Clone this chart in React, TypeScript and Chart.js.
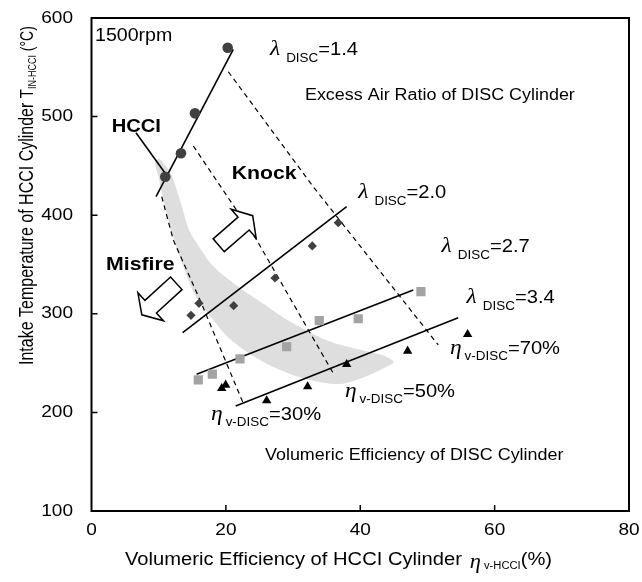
import React, { useEffect, useRef } from "react";
import { Chart, registerables } from "chart.js";

Chart.register(...registerables);

// ---------------- data ----------------
const xTickValues = [0, 20, 40, 60, 80];
const yTickValues = [100, 200, 300, 400, 500, 600];

// measured points (x: volumetric efficiency of HCCI cyl. %, y: intake temperature °C)
const lambda14X = [10.98, 13.32, 15.4, 20.27];
const lambda14Y = [439.0, 462.8, 503.3, 569.9];
const lambda20X = [14.81, 16.0, 21.16, 27.31, 32.86, 36.73];
const lambda20Y = [298.5, 310.6, 308.2, 336.3, 368.8, 392.4];
const lambda27X = [15.89, 17.98, 22.1, 29.05, 33.9, 39.7, 49.03];
const lambda27Y = [232.9, 238.9, 254.2, 266.6, 293.0, 295.0, 322.4];
const lambda34X = [19.38, 19.97, 26.07, 32.17, 37.98, 47.05, 55.98];
const lambda34Y = [224.4, 227.8, 211.9, 226.1, 248.8, 262.3, 279.2];

// solid trend lines for each excess air ratio
const fit14X = [9.6, 21.1];
const fit14Y = [418.8, 568.3];
const fit20X = [13.57, 37.98];
const fit20Y = [280.8, 408.6];
const fit27X = [15.65, 47.89];
const fit27Y = [238.6, 324.1];
const fit34X = [21.46, 54.58];
const fit34Y = [206.5, 296.0];
const hcciPointerX = [6.62, 10.94];
const hcciPointerY = [483.7, 442.8];

// dashed iso-volumetric-efficiency lines of DISC cylinder
const eta30X = [10.45, 12.17, 16.15, 22.59];
const eta30Y = [418.8, 374.9, 314.0, 209.2];
const eta50X = [15.15, 24.58, 35.98];
const eta50Y = [470.2, 374.9, 239.7];
const eta70X = [20.36, 33.0, 51.61];
const eta70Y = [545.5, 428.9, 268.4];

// grey operating band (outline)
const bandX = [
  10.04, 11.68, 13.17, 14.51, 15.85, 18.08, 22.1, 25.82, 29.09, 35.19, 39.96, 43.53, 45.01,
  44.42, 41.0, 36.98, 32.51, 29.54, 25.07, 20.61, 17.19, 15.25, 13.76, 12.28, 10.94, 9.9, 9.45,
];
const bandY = [
  458.0, 443.8, 415.4, 385.0, 369.8, 348.5, 326.2, 309.1, 293.9, 272.6, 263.5, 257.4, 251.3,
  248.1, 237.0, 228.8, 232.9, 238.9, 253.1, 274.4, 301.8, 321.1, 346.5, 374.8, 408.3, 440.8, 452.9,
];

// arrows (tail, tip) in data coordinates
const knockArrowX = [18.93, 23.99];
const knockArrowY = [369.5, 399.5];
const misfireArrowX = [12.62, 7.49];
const misfireArrowY = [330.9, 299.0];

// labels
const lambdaValues = ["1.4", "2.0", "2.7", "3.4"];
const lambdaLabelX = [26.56, 39.7, 52.11, 55.83];
const lambdaLabelY = [562.5, 417.1, 363.0, 310.6];
const etaValues = ["30%", "50%", "70%"];
const etaLabelX = [17.78, 37.72, 53.35];
const etaLabelY = [192.3, 215.9, 259.2];
const plainTexts = ["1500rpm", "Excess Air Ratio of DISC Cylinder", "Volumeric Efficiency of DISC Cylinder"];
const plainTextX = [0.52, 31.77, 25.82];
const plainTextY = [576.7, 516.8, 151.7];
const boldTexts = ["HCCI", "Knock", "Misfire"];
const boldTextX = [3.0, 20.86, 2.16];
const boldTextY = [484.7, 436.4, 344.4];

// ---------------- styling helpers ----------------
const SANS = '"Liberation Sans", Arial, Helvetica, sans-serif';
const SERIF = '"Liberation Serif", "Times New Roman", serif';
const SX = 1.12;
const W = 642;
const H = 582;

const zip = (xs: number[], ys: number[]) => xs.map((x, i) => ({ x, y: ys[i] }));

type Seg = { t: string; size: number; bold?: boolean; greek?: boolean; dy?: number; gap?: number };

function fontOf(s: Seg) {
  if (s.greek) return `italic ${s.size}px ${SERIF}`;
  return `${s.bold ? "bold " : ""}${s.size}px ${SANS}`;
}

function drawRich(ctx: CanvasRenderingContext2D, x: number, y: number, segs: Seg[], sx = SX) {
  ctx.save();
  ctx.translate(x, y);
  ctx.scale(sx, 1);
  ctx.textAlign = "left";
  ctx.textBaseline = "alphabetic";
  ctx.fillStyle = "#000";
  let cx = 0;
  for (const s of segs) {
    ctx.font = fontOf(s);
    ctx.fillText(s.t, cx, s.dy || 0);
    cx += ctx.measureText(s.t).width + (s.gap || 0) / sx;
  }
  ctx.restore();
}

function drawStretched(
  ctx: CanvasRenderingContext2D,
  text: string,
  x: number,
  y: number,
  align: CanvasTextAlign,
  baseline: CanvasTextBaseline,
  size: number
) {
  ctx.save();
  ctx.translate(x, y);
  ctx.scale(SX, 1);
  ctx.font = `${size}px ${SANS}`;
  ctx.fillStyle = "#000";
  ctx.textAlign = align;
  ctx.textBaseline = baseline;
  ctx.fillText(text, 0, 0);
  ctx.restore();
}

function drawBlockArrow(ctx: CanvasRenderingContext2D, tx: number, ty: number, hx: number, hy: number) {
  const dx = hx - tx, dy = hy - ty;
  const L = Math.hypot(dx, dy);
  const ux = dx / L, uy = dy / L;
  const nx = -uy, ny = ux;
  const headLen = 12, sh = 8.5, hh = 19;
  const bx = hx - ux * headLen, by = hy - uy * headLen;
  const pts = [
    [tx + nx * sh, ty + ny * sh],
    [bx + nx * sh, by + ny * sh],
    [bx + nx * hh, by + ny * hh],
    [hx, hy],
    [bx - nx * hh, by - ny * hh],
    [bx - nx * sh, by - ny * sh],
    [tx - nx * sh, ty - ny * sh],
  ];
  ctx.beginPath();
  pts.forEach((p, i) => (i ? ctx.lineTo(p[0], p[1]) : ctx.moveTo(p[0], p[1])));
  ctx.closePath();
  ctx.fillStyle = "#fff";
  ctx.fill();
  ctx.strokeStyle = "#000";
  ctx.lineWidth = 1.5;
  ctx.lineJoin = "miter";
  ctx.stroke();
}

const overlayPlugin = {
  id: "overlay",
  afterDraw(chart: any) {
    const { ctx, chartArea: a, scales } = chart;
    const xs = scales.x, ys = scales.y;
    const px = (v: number) => xs.getPixelForValue(v);
    const py = (v: number) => ys.getPixelForValue(v);
    ctx.save();

    // arrows
    drawBlockArrow(ctx, px(knockArrowX[0]), py(knockArrowY[0]), px(knockArrowX[1]), py(knockArrowY[1]));
    drawBlockArrow(ctx, px(misfireArrowX[0]), py(misfireArrowY[0]), px(misfireArrowX[1]), py(misfireArrowY[1]));

    // frame
    ctx.strokeStyle = "#000";
    ctx.lineWidth = 2;
    ctx.strokeRect(a.left, a.top, a.right - a.left, a.bottom - a.top);

    // inward tick marks
    ctx.lineWidth = 1.5;
    ctx.beginPath();
    for (const v of yTickValues) {
      if (v === ys.min || v === ys.max) continue;
      ctx.moveTo(a.left, py(v));
      ctx.lineTo(a.left + 6, py(v));
    }
    for (const v of xTickValues) {
      if (v === xs.min || v === xs.max) continue;
      ctx.moveTo(px(v), a.bottom);
      ctx.lineTo(px(v), a.bottom - 6);
    }
    ctx.stroke();

    // tick labels
    for (const v of yTickValues) drawStretched(ctx, String(v), a.left - 18.5, py(v), "right", "middle", 17);
    for (const v of xTickValues) drawStretched(ctx, String(v), px(v), a.bottom + 24, "center", "alphabetic", 17);

    // in-plot texts
    plainTexts.forEach((t, i) =>
      drawRich(ctx, px(plainTextX[i]), py(plainTextY[i]), [{ t, size: i === 0 ? 17.5 : 16 }])
    );
    boldTexts.forEach((t, i) =>
      drawRich(ctx, px(boldTextX[i]), py(boldTextY[i]), [{ t, size: i === 0 ? 18 : 19, bold: true }])
    );
    lambdaValues.forEach((v, i) =>
      drawRich(ctx, px(lambdaLabelX[i]), py(lambdaLabelY[i]), [
        { t: "λ", size: 21, greek: true, gap: 6 },
        { t: "DISC", size: 12, dy: 7 },
        { t: "=" + v, size: 18 },
      ])
    );
    etaValues.forEach((v, i) =>
      drawRich(ctx, px(etaLabelX[i]), py(etaLabelY[i]), [
        { t: "η", size: 21, greek: true, gap: 3 },
        { t: "v-DISC", size: 12, dy: 6 },
        { t: "=" + v, size: 18 },
      ])
    );

    // x axis title
    drawRich(ctx, a.left + 33.5, a.bottom + 54, [
      { t: "Volumeric Efficiency of HCCI Cylinder", size: 18, gap: 8 },
      { t: "η", size: 20, greek: true, dy: 3, gap: 3 },
      { t: "v-HCCI", size: 10, dy: 4 },
      { t: "(%)", size: 18 },
    ]);

    // y axis title (rotated)
    ctx.save();
    ctx.translate(a.left - 58.5, a.bottom - 146);
    ctx.rotate(-Math.PI / 2);
    ctx.scale(1, 1.25);
    ctx.fillStyle = "#000";
    ctx.textBaseline = "alphabetic";
    ctx.textAlign = "left";
    const ySegs: Seg[] = [
      { t: "Intake Temperature of HCCI Cylinder ", size: 16 },
      { t: "T", size: 15 },
      { t: "IN-HCCI", size: 9, dy: 2 },
      { t: " (°C)", size: 14 },
    ];
    let cx = 0;
    for (const s of ySegs) {
      ctx.font = fontOf(s);
      ctx.fillText(s.t, cx, s.dy || 0);
      cx += ctx.measureText(s.t).width;
    }
    ctx.restore();

    ctx.restore();
  },
};

export default function App() {
  const ref = useRef<HTMLCanvasElement>(null);

  useEffect(() => {
    const canvas = ref.current;
    if (!canvas) return;

    const lineDs = (xs: number[], ys: number[], dashed: boolean) => ({
      data: zip(xs, ys),
      showLine: true,
      borderColor: "#000",
      borderWidth: dashed ? 1.2 : 1.6,
      borderDash: dashed ? [5, 4] : [],
      pointRadius: 0,
      fill: false,
      tension: 0,
      order: 5,
    });
    const markerDs = (xs: number[], ys: number[], style: string, color: string, r: number) => ({
      data: zip(xs, ys),
      showLine: false,
      pointStyle: style,
      pointRadius: r,
      pointBackgroundColor: color,
      pointBorderColor: color,
      pointBorderWidth: 0,
      order: 1,
    });

    const noPad = (s: any) => {
      s.paddingTop = 0;
      s.paddingBottom = 0;
      s.paddingLeft = 0;
      s.paddingRight = 0;
    };

    const chart = new Chart(canvas, {
      type: "scatter",
      data: {
        datasets: [
          {
            data: zip(bandX.concat([bandX[0]]), bandY.concat([bandY[0]])),
            showLine: true,
            borderWidth: 0,
            borderColor: "rgba(0,0,0,0)",
            backgroundColor: "#dedede",
            pointRadius: 0,
            fill: "shape",
            tension: 0.3,
            order: 10,
          } as any,
          lineDs(fit14X, fit14Y, false),
          lineDs(fit20X, fit20Y, false),
          lineDs(fit27X, fit27Y, false),
          lineDs(fit34X, fit34Y, false),
          lineDs(hcciPointerX, hcciPointerY, false),
          lineDs(eta30X, eta30Y, true),
          lineDs(eta50X, eta50Y, true),
          lineDs(eta70X, eta70Y, true),
          markerDs(lambda14X, lambda14Y, "circle", "#404040", 5.3),
          markerDs(lambda20X, lambda20Y, "rectRot", "#404040", 4.6),
          markerDs(lambda27X, lambda27Y, "rect", "#a3a3a3", 6.5),
          markerDs(lambda34X, lambda34Y, "triangle", "#000", 5.4),
        ] as any,
      },
      options: {
        animation: false,
        responsive: false,
        events: [],
        layout: { padding: { top: 18, right: 13, left: 0, bottom: 0 } },
        plugins: {
          legend: { display: false },
          tooltip: { enabled: false },
        },
        scales: {
          x: {
            type: "linear",
            min: 0,
            max: 80,
            afterBuildTicks: (s: any) => {
              s.ticks = xTickValues.map((value) => ({ value }));
            },
            ticks: { display: false },
            grid: { display: false, drawTicks: false },
            border: { display: false },
            afterFit: (s: any) => {
              s.height = 71;
              noPad(s);
            },
          },
          y: {
            type: "linear",
            min: 100,
            max: 600,
            afterBuildTicks: (s: any) => {
              s.ticks = yTickValues.map((value) => ({ value }));
            },
            ticks: { display: false },
            grid: { display: false, drawTicks: false },
            border: { display: false },
            afterFit: (s: any) => {
              s.width = 91.5;
              noPad(s);
            },
          },
        },
      } as any,
      plugins: [overlayPlugin],
    });

    return () => chart.destroy();
  }, []);

  return (
    <div style={{ position: "fixed", left: 0, top: 0, width: W, height: H, background: "#fff" }}>
      <canvas ref={ref} width={W} height={H} style={{ display: "block" }} />
    </div>
  );
}
